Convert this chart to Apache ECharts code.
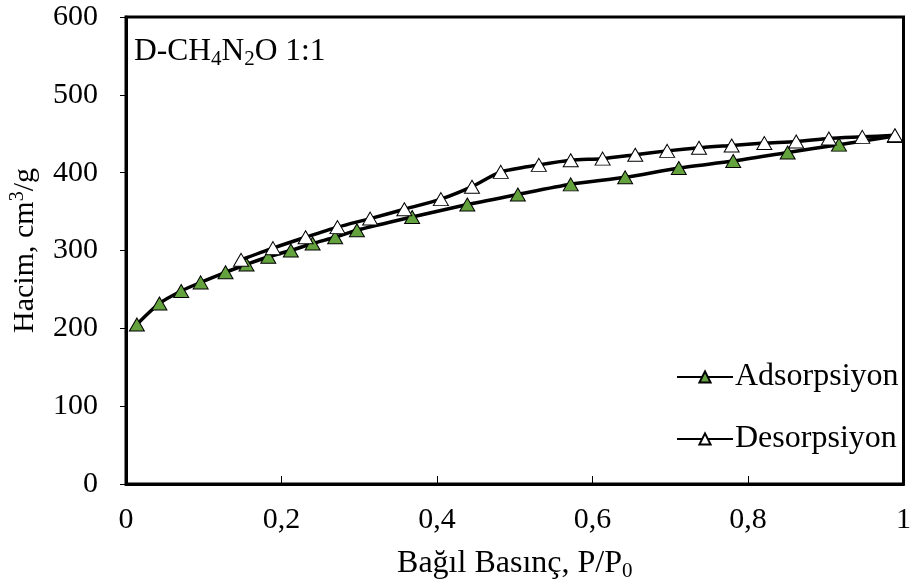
<!DOCTYPE html>
<html>
<head>
<meta charset="utf-8">
<script src="https://cdn.jsdelivr.net/npm/echarts@6/dist/echarts.min.js"></script>
<style>
html,body{margin:0;padding:0;background:#fff;}
#chart{width:914px;height:587px;}
</style>
</head>
<body>
<div id="chart"></div>
<script>
// ---- data ----
var adsX = [0.014,0.043,0.071,0.096,0.128,0.155,0.183,0.212,0.240,0.269,0.297,0.368,0.439,0.504,0.572,0.642,0.711,0.781,0.851,0.917,0.989];
var adsY = [205,232,248,259,272,282,292,300,309,317,326,343,359,372,385,394,406,415,426,436,447];
var desX = [0.989,0.947,0.904,0.862,0.821,0.779,0.737,0.696,0.655,0.613,0.572,0.531,0.482,0.445,0.405,0.358,0.314,0.272,0.231,0.189,0.148];
var desY = [448,446,444,440,438,435,432,428,423,418,416,410,401,382,366,353,341,330,317,303,288];
var seriesNames = ['Adsorpsiyon','Desorpsiyon'];
var xTicks = [0,0.2,0.4,0.6,0.8,1];
var yTicks = [0,100,200,300,400,500,600];

function pairs(xs, ys){ return xs.map(function(x,i){ return [x, ys[i]]; }); }

var FONT = "'Liberation Serif','Times New Roman',serif";
var chart = echarts.init(document.getElementById('chart'), null, {renderer:'canvas'});
var option = {
  backgroundColor:'#fff',
  animation:false,
  title:{
    text:'D-CH{s|4}N{s|2}O 1:1',
    left:129, top:29,
    textStyle:{
      fontFamily:FONT, fontSize:31.5, fontWeight:'normal', color:'#000',
      rich:{ s:{fontFamily:FONT, fontSize:21, color:'#000', verticalAlign:'bottom', padding:[15,0,0,0]} }
    }
  },
  grid:{left:125, right:8, top:17, bottom:102, show:true, borderColor:'#000', borderWidth:3, backgroundColor:'transparent'},
  legend:{
    orient:'vertical', left:671, top:356, itemGap:30, itemWidth:56, itemHeight:14,
    textStyle:{fontFamily:FONT, fontSize:32, color:'#000', padding:[0,0,0,-3]},
    data:seriesNames
  },
  xAxis:{
    type:'value', min:xTicks[0], max:xTicks[xTicks.length-1], interval:0.2,
    name:'Bağıl Basınç, P/P{s|0}', nameLocation:'middle', nameGap:62,
    nameTextStyle:{fontFamily:FONT, fontSize:32, color:'#000',
      rich:{s:{fontFamily:FONT, fontSize:21, color:'#000', verticalAlign:'top', padding:[15,0,0,0]}}},
    axisLine:{show:true, lineStyle:{color:'#000', width:3}},
    axisTick:{show:true, inside:true, length:8, lineStyle:{color:'#000', width:1}},
    axisLabel:{fontFamily:FONT, fontSize:30, color:'#000', margin:21,
      formatter:function(v){ return String(v).replace('.', ','); }},
    splitLine:{show:false}
  },
  yAxis:{
    type:'value', min:yTicks[0], max:yTicks[yTicks.length-1], interval:100,
    name:'Hacim, cm{p|3}/g', nameLocation:'middle', nameGap:84, nameRotate:90,
    nameTextStyle:{fontFamily:FONT, fontSize:30, color:'#000',
      rich:{p:{fontFamily:FONT, fontSize:20, color:'#000', verticalAlign:'top', padding:[0,0,14,0]}}},
    axisLine:{show:true, lineStyle:{color:'#000', width:3}},
    axisTick:{show:true, inside:false, length:6, lineStyle:{color:'#000', width:1}},
    axisLabel:{fontFamily:FONT, fontSize:30, color:'#000', margin:28},
    splitLine:{show:false}
  },
  series:[
    {
      name:seriesNames[0], type:'line', data:pairs(adsX, adsY), smooth:0.25,
      symbol:'triangle', symbolSize:[15,13], showAllSymbol:true,
      lineStyle:{color:'#000', width:3.5},
      itemStyle:{color:'#64a23e', borderColor:'#000', borderWidth:1},
      z:2
    },
    {
      name:seriesNames[1], type:'line', data:pairs(desX, desY), smooth:0.25,
      symbol:'triangle', symbolSize:[15,13], showAllSymbol:true,
      lineStyle:{color:'#000', width:3.5},
      itemStyle:{color:'#fff', borderColor:'#000', borderWidth:1},
      z:3
    }
  ]
};
chart.setOption(option);
</script>
</body>
</html>
